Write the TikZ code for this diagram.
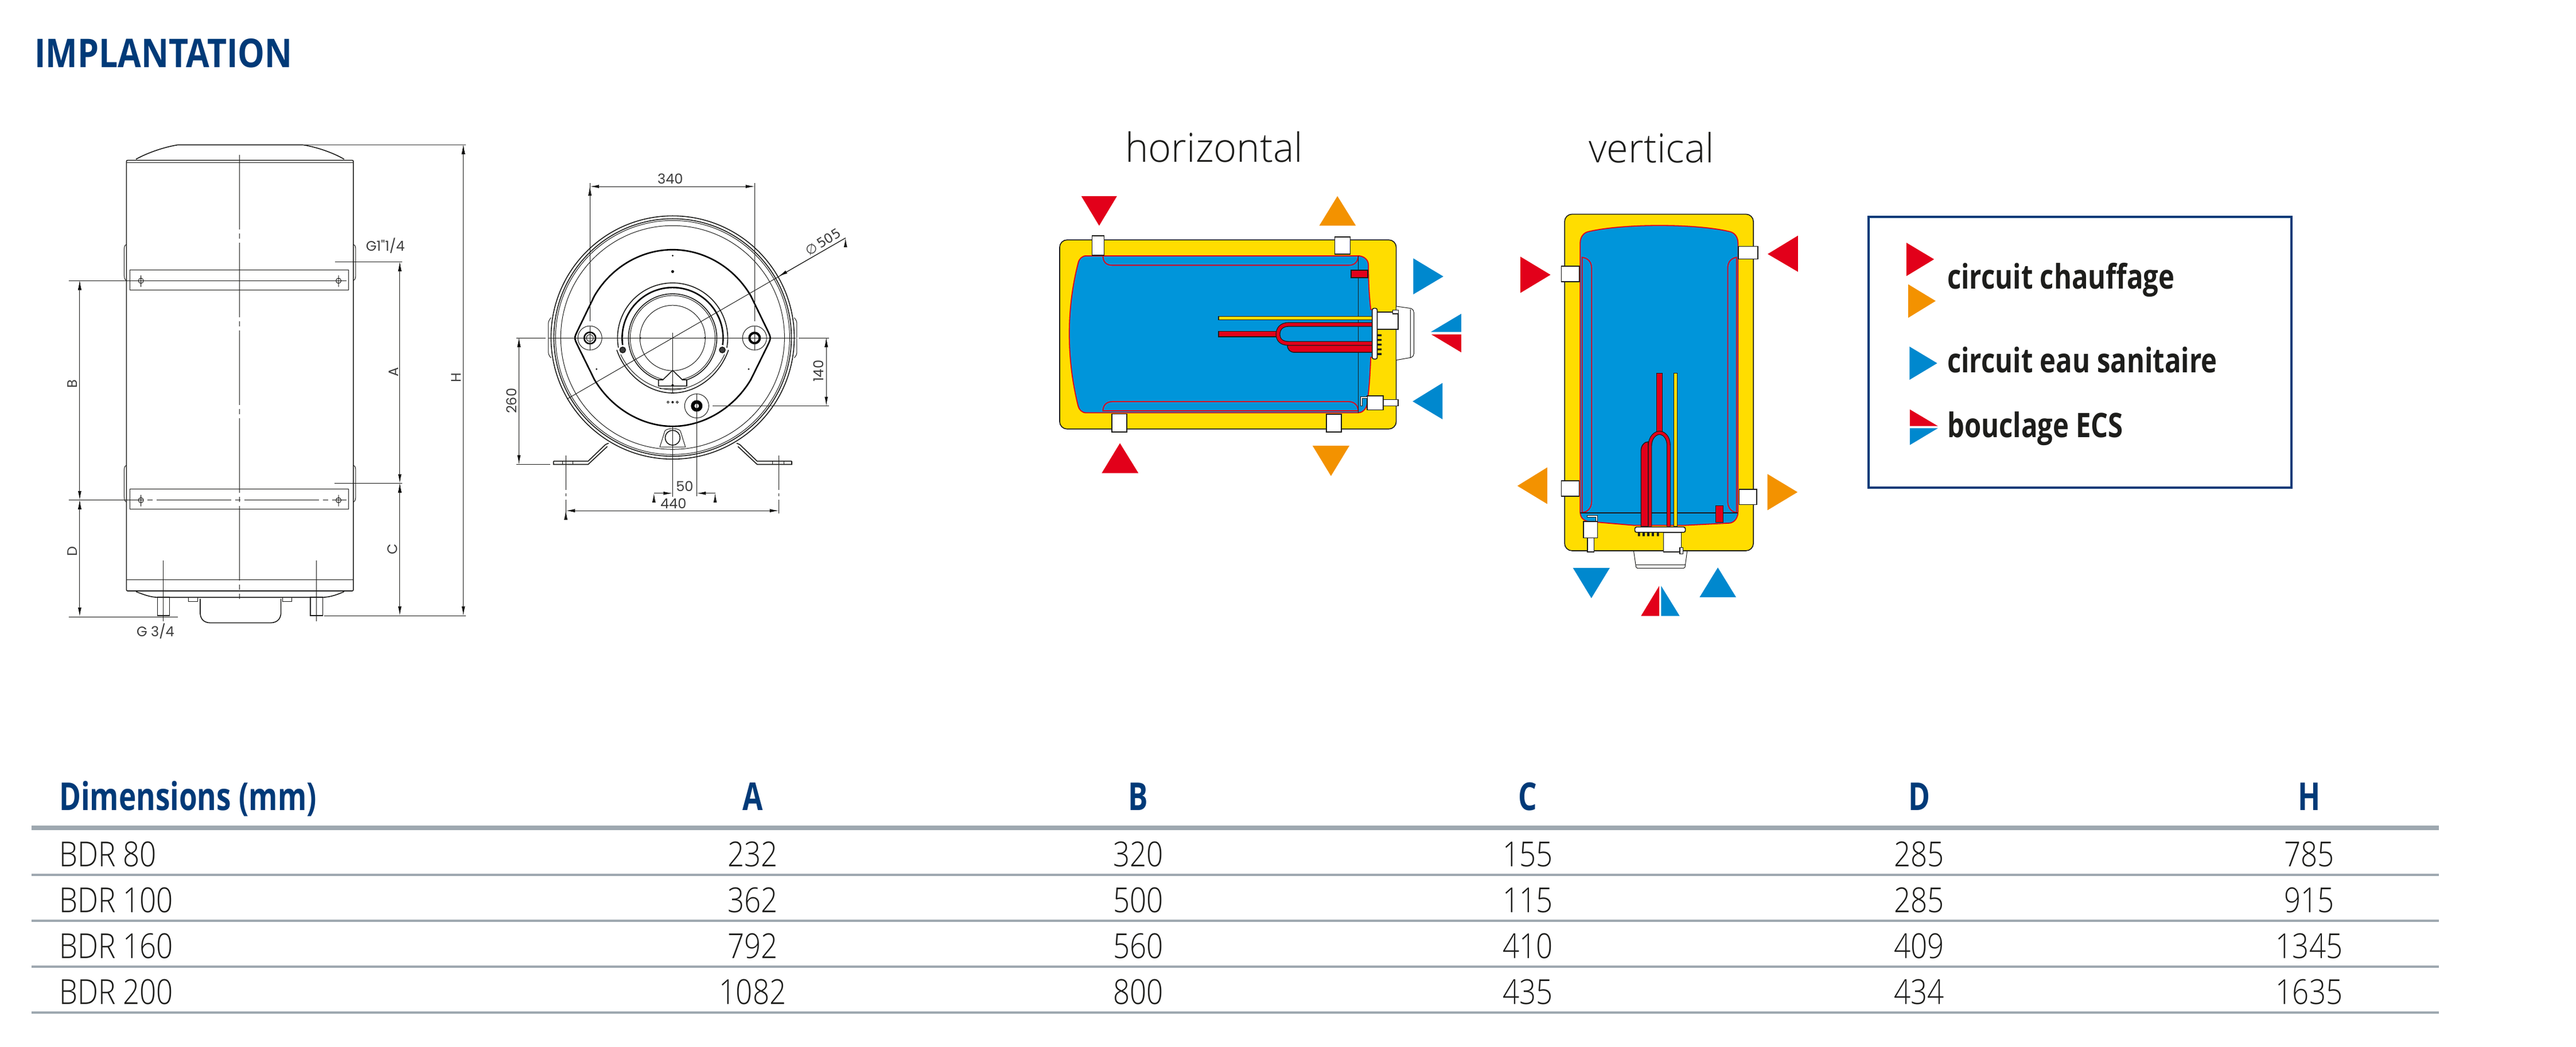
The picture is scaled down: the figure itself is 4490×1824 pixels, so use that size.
\documentclass[tikz,border=0pt]{standalone}
\usepackage{fontspec}
\usetikzlibrary{arrows.meta}
\setmainfont{Open Sans}
\newfontfamily\tablefont[FakeStretch=0.85]{Open Sans Light}
\newfontfamily\headfont[FakeStretch=0.765]{Open Sans}
\newfontfamily\titlefont[FakeStretch=0.855]{Open Sans}
\newfontfamily\legendfont[FakeStretch=0.8]{Open Sans}
\newfontfamily\viewfont[FakeStretch=0.98]{Open Sans Light}
\newfontfamily\dimfont{Poppins}
\newfontfamily\symfont{DejaVu Sans}
\definecolor{navy}{HTML}{003A78}
\definecolor{rulegrey}{HTML}{9EA8B0}
\definecolor{inkdark}{HTML}{1D1D1B}
\definecolor{dimgrey}{HTML}{3C3C3C}
\definecolor{shellyellow}{HTML}{FFDD00}
\definecolor{waterblue}{HTML}{0095DA}
\definecolor{arrowblue}{HTML}{0088CE}
\definecolor{hotred}{HTML}{E2001A}
\definecolor{warmorange}{HTML}{F39200}
\begin{document}
\begin{tikzpicture}[x=1pt, y=-1pt,
    frontview/.style={shift={(0,200)}, x=.574pt, y=-.625pt},
    topview/.style={shift={(880,250)}, x=.4464pt, y=-.4337pt},
    horizview/.style={shift={(1800,200)}, x=.5102pt, y=-.4337pt},
    vertview/.style={shift={(2600,200)}, x=.3827pt, y=-.574pt},
    legendview/.style={shift={(3200,340)}, x=.5485pt, y=-.3444pt},
    title text/.style={font=\fontsize{69}{69}\titlefont\bfseries, text=navy, anchor=base west, inner sep=0},
    head text/.style={font=\fontsize{67}{67}\headfont\bfseries, text=navy, anchor=base, inner sep=0},
    row text/.style={font=\fontsize{60}{60}\tablefont, text=inkdark, anchor=base west, inner sep=0},
    cell/.style={font=\fontsize{60}{60}\tablefont, text=inkdark, anchor=base, inner sep=0},
    view text/.style={font=\fontsize{70}{70}\viewfont, text=inkdark, anchor=base west, inner sep=0},
    legend text/.style={font=\fontsize{59}{59}\legendfont\bfseries, text=inkdark, anchor=base west, inner sep=0},
    dim text/.style={font=\fontsize{24}{24}\dimfont, text=dimgrey, inner sep=0},
    outline/.style={draw=inkdark, line width=1.6pt},
    thinline/.style={draw=inkdark, line width=1pt},
    axisline/.style={draw=inkdark, line width=.8pt, dash pattern=on 130pt off 7pt on 9pt off 7pt},
    dimline/.style={draw=inkdark, line width=1pt, {Latex[length=16pt,width=6pt]}-{Latex[length=16pt,width=6pt]}},
    dimhead/.style={draw=inkdark, line width=1pt, -{Latex[length=16pt,width=6pt]}},
    plate/.style={draw=black, line width=2.6pt},
    shell/.style={fill=shellyellow, draw=inkdark, line width=1.6pt},
    tank/.style={fill=waterblue, draw=hotred, line width=1.8pt},
    coil/.style={draw=hotred, line width=1.8pt},
    socket/.style={fill=white, draw=inkdark, line width=1.6pt},
    redpart/.style={fill=hotred, draw=inkdark, line width=1.4pt},
    rodpart/.style={fill=shellyellow, draw=inkdark, line width=1.4pt}]

    \useasboundingbox (0,0) rectangle (4490,1824);
    \fill[white] (0,0) rectangle (4490,1824);

    \node[title text] at (60,117) (title) {IMPLANTATION};

    % front view
    \begin{scope}[frontview]
        \draw[outline, rounded corners=2pt] (384,127) rectangle (1073,1328);
        \draw[thinline] (384,133) -- (1073,133);
        \draw[thinline] (384,1297) -- (1073,1297);
        \draw[outline] (413,124) .. controls (450,105) and (500,90) .. (540,84) -- (920,84) .. controls (960,90) and (1010,105) .. (1045,124);
        \draw[outline] (413,1330) .. controls (435,1338) and (455,1345) .. (478,1346) -- (980,1346) .. controls (1005,1345) and (1025,1338) .. (1045,1330);
        \draw[thinline] (384,362) .. controls (377,364) and (377,370) .. (377,380) -- (377,445) .. controls (377,455) and (378,460) .. (384,462);
        \draw[thinline] (1073,362) .. controls (1080,364) and (1080,370) .. (1080,380) -- (1080,445) .. controls (1080,455) and (1079,460) .. (1073,462);
        \draw[thinline] (384,978) .. controls (377,980) and (377,986) .. (377,996) -- (377,1062) .. controls (377,1072) and (378,1078) .. (384,1080);
        \draw[thinline] (1073,978) .. controls (1080,980) and (1080,986) .. (1080,996) -- (1080,1062) .. controls (1080,1072) and (1079,1078) .. (1073,1080);
        \draw[thinline] (394,432) rectangle (1059,488);
        \draw[thinline] (394,1044) rectangle (1059,1100);
        \draw[thinline] (428,463) circle[radius=4.5pt] (428,448) -- (428,480);
        \draw[thinline] (1028,463) circle[radius=4.5pt] (1028,448) -- (1028,480);
        \draw[thinline] (428,1075) circle[radius=4.5pt] (428,1060) -- (428,1092);
        \draw[thinline] (1028,1075) circle[radius=4.5pt] (1028,1060) -- (1028,1092);
        \draw[axisline] (728,112) -- (728,1408);
        \draw[thinline] (209,463) -- (1052,463);
        \draw[axisline] (209,1075) -- (1052,1075);
        \draw[thinline] (209,1400) -- (540,1400);
        \draw[thinline, draw=dimgrey] (920,84) -- (1415,84);
        \draw[thinline] (1017,411) -- (1222,411);
        \draw[thinline] (1016,1028) -- (1222,1028);
        \draw[thinline] (985,1397) -- (1415,1397);
        \draw[outline, fill=white] (478,1346) rectangle (515,1397);
        \draw[outline, fill=white] (942,1346) rectangle (980,1397);
        \draw[thinline] (496,1243) -- (496,1412);
        \draw[thinline] (961,1243) -- (961,1412);
        \draw[outline, fill=white] (608,1350) -- (608,1392) .. controls (610,1408) and (620,1417) .. (640,1417) -- (820,1417) .. controls (840,1417) and (851,1408) .. (853,1392) -- (853,1350);
        \draw[thinline, fill=white] (572,1346) rectangle (600,1358);
        \draw[thinline, fill=white] (858,1346) rectangle (885,1358);
        \coordinate (bTop) at (242,463);
        \coordinate (bBottom) at (242,1075);
        \coordinate (dBottom) at (242,1400);
        \coordinate (aTop) at (1214,411);
        \coordinate (aBottom) at (1214,1028);
        \coordinate (cBottom) at (1214,1397);
        \coordinate (hTop) at (1407,84);
        \coordinate (hBottom) at (1407,1397);
        \path[dimline] (bTop) edge (bBottom);
        \path[dimline] (bBottom) edge (dBottom);
        \path[dimline] (aTop) edge (aBottom);
        \path[dimline] (aBottom) edge (cBottom);
        \path[dimline] (hTop) edge (hBottom);
        \node[dim text, rotate=90] at (220,750) (dimB) {B};
        \node[dim text, rotate=90] at (220,1218) (dimD) {D};
        \node[dim text, rotate=90] at (1195,718) (dimA) {A};
        \node[dim text, rotate=90] at (1192,1212) (dimC) {C};
        \node[dim text, rotate=90] at (1385,733) (dimH) {H};
        \node[dim text] at (1170,365) (portTop) {G1"1/4};
        \node[dim text] at (472,1441) (portBottom) {G 3/4};
    \end{scope}

    % top view
    \begin{scope}[topview]
        \draw[outline] (655,780) circle[radius=212pt];
        \draw[outline] (655,780) circle[radius=207pt];
        \draw[thinline] (655,780) circle[radius=204pt];
        \draw[thinline] (655,780) circle[radius=195pt];
        \draw[plate] (285,750) -- (350,612) .. controls (420,490) and (540,427) .. (655,427) .. controls (770,427) and (890,490) .. (960,612) -- (1025,750) .. controls (1040,782) .. (1025,814) -- (960,950) .. controls (890,1070) and (770,1137) .. (655,1137) .. controls (540,1137) and (420,1070) .. (350,950) -- (285,814) .. controls (270,782) .. (285,750) -- cycle;
        \draw[outline] (655,782) ++(190:96pt) arc[start angle=190, end angle=-10, radius=96pt];
        \draw[plate] (655,782) ++(188:88pt) arc[start angle=188, end angle=-8, radius=88pt];
        \draw[outline] (437,830) .. controls (470,930) and (560,1003) .. (655,1003) .. controls (750,1003) and (840,930) .. (873,830);
        \draw[thinline] (452,848) .. controls (490,930) and (570,990) .. (655,990) .. controls (740,990) and (820,930) .. (858,848);
        \draw[outline] (655,782) circle[radius=77pt];
        \draw[thinline] (655,782) circle[radius=74pt];
        \draw[thinline] (655,782) circle[radius=57pt];
        \draw[outline, fill=dimgrey] (460,830) circle[radius=5pt];
        \draw[outline, fill=dimgrey] (849,830) circle[radius=5pt];
        \draw[outline, fill=white] (655,912) -- (617,950) -- (600,950) -- (600,975) -- (710,975) -- (710,950) -- (693,950) -- cycle;
        \draw[thinline] (605,985) -- (705,985);
        \draw[thinline] (332,782) circle[radius=21pt];
        \draw[plate] (332,782) circle[radius=10pt];
        \draw[thinline] (332,782) circle[radius=6pt];
        \draw[thinline] (975,782) circle[radius=21pt];
        \draw[line width=4pt, draw=black] (975,782) circle[radius=9pt];
        \draw[thinline] (749,1055) circle[radius=21pt];
        \draw[line width=6pt, draw=black] (749,1055) circle[radius=7pt];
        \fill[black] (655,451) circle[radius=1.5pt] (655,515) circle[radius=2.5pt] (358,907) circle[radius=1.5pt] (952,907) circle[radius=1.5pt] (655,1040) circle[radius=2pt] (655,972) circle[radius=2pt] (530,782) circle[radius=1.5pt] (780,782) circle[radius=1.5pt];
        \draw[thinline] (637,1040) circle[radius=1.8pt] (673,1040) circle[radius=1.8pt];
        \draw[thinline] (170,782) -- (1135,782);
        \draw[thinline] (45,782) -- (160,782);
        \draw[thinline] (1148,782) -- (1265,782);
        \draw[thinline, rounded corners=3pt] (180,700) -- (170,715) -- (170,848) -- (180,862);
        \draw[thinline, rounded corners=3pt] (1130,700) -- (1140,715) -- (1140,848) -- (1130,862);
        \draw[thinline] (332,160) -- (332,715);
        \draw[thinline] (976,160) -- (976,715);
        \draw[thinline] (332,735) -- (332,830);
        \draw[thinline] (975,735) -- (975,830);
        \draw[thinline] (655,760) -- (655,1000);
        \draw[thinline] (655,1140) -- (655,1420);
        \draw[thinline] (749,1005) -- (749,1418);
        \draw[thinline] (812,1055) -- (1265,1055);
        \draw[thinline] (45,1290) -- (178,1290);
        \draw[thinline] (605,1220) -- (625,1155) .. controls (635,1143) and (675,1143) .. (685,1155) -- (705,1220) -- cycle;
        \draw[outline] (655,1183) circle[radius=13pt];
        \draw[outline] (190,1277) -- (325,1277) -- (393,1210) -- (405,1205);
        \draw[outline] (190,1277) -- (190,1290) -- (325,1290) -- (400,1218);
        \draw[outline] (1120,1277) -- (985,1277) -- (917,1210) -- (905,1205);
        \draw[outline] (1120,1277) -- (1120,1290) -- (985,1290) -- (910,1218);
        \draw[thinline] (225,1277) -- (225,1290) (265,1277) -- (265,1290) (1045,1277) -- (1045,1290) (1090,1277) -- (1090,1290);
        \draw[thinline, dash pattern=on 60pt off 6pt on 5pt off 6pt] (238,1255) -- (238,1488);
        \draw[thinline, dash pattern=on 60pt off 6pt on 5pt off 6pt] (1070,1255) -- (1070,1488);
        \coordinate (widthLeft) at (332,173);
        \coordinate (widthRight) at (976,173);
        \coordinate (offsetTop) at (1255,782);
        \coordinate (offsetBottom) at (1255,1055);
        \coordinate (footTop) at (55,782);
        \coordinate (footBottom) at (55,1290);
        \coordinate (feetLeft) at (238,1476);
        \coordinate (feetRight) at (1070,1476);
        \coordinate (shiftLeft) at (582,1406);
        \coordinate (shiftCentre) at (655,1406);
        \coordinate (shiftRight) at (821,1406);
        \coordinate (shiftPort) at (749,1406);
        \coordinate (diaFar) at (243,1027);
        \coordinate (diaFree) at (1330,380);
        \coordinate (diaRim) at (1068,535);
        \path[dimline] (widthLeft) edge (widthRight);
        \path[dimline] (offsetTop) edge (offsetBottom);
        \path[dimline] (footTop) edge (footBottom);
        \path[dimline] (feetLeft) edge (feetRight);
        \path[dimhead] (shiftLeft) edge (shiftCentre);
        \path[dimhead] (shiftRight) edge (shiftPort);
        \path[thinline] (diaFar) edge (diaFree);
        \path[dimhead] (diaFree) edge (diaRim);
        \node[dim text] at (646,143) (dim340) {340};
        \node[dim text] at (702,1377) (dim50) {50};
        \node[dim text] at (658,1447) (dim440) {440};
        \node[dim text, rotate=90] at (1225,915) (dim140) {140};
        \node[dim text, rotate=90] at (27,1035) (dim260) {260};
        \node[dim text, font=\fontsize{23}{23}\symfont, rotate=32] at (1243,395) (dim505) {∅\kern3pt 505};
    \end{scope}

    % horizontal
    \node[view text] at (1961,282) (viewH) {horizontal};
    \begin{scope}[horizview]
        \draw[shell, rounded corners=13pt] (92,503) rectangle (1242,1263);
        \draw[tank] (183,567) -- (1115,567) .. controls (1135,570) and (1147,585) .. (1147,605) .. controls (1147,680) and (1150,730) .. (1155,783) -- (1160,783) -- (1160,975) -- (1155,975) .. controls (1152,1050) and (1150,1100) .. (1142,1165) .. controls (1138,1185) and (1125,1198) .. (1112,1198) -- (183,1198) .. controls (168,1198) and (158,1185) .. (155,1170) .. controls (115,980) and (115,780) .. (155,597) .. controls (158,580) and (168,567) .. (183,567) -- cycle;
        \draw[coil] (240,567) .. controls (240,590) and (250,605) .. (272,605) -- (1080,605) .. controls (1100,605) and (1112,590) .. (1112,567);
        \draw[coil] (240,1190) .. controls (240,1170) and (250,1153) .. (272,1153) -- (1080,1153) .. controls (1100,1153) and (1112,1170) .. (1112,1190) -- cycle;
        \draw[outline] (1112,567) -- (1112,1198);
        \draw[redpart] (1088,625) rectangle (1145,655);
        \draw[socket] (203,486) rectangle (244,565);
        \draw[socket] (1032,491) rectangle (1085,560);
        \draw[socket] (270,1202) rectangle (321,1275);
        \draw[socket] (1003,1204) rectangle (1055,1275);
        \draw[socket] (1198,1145) rectangle (1248,1170);
        \draw[socket] (1143,1130) rectangle (1198,1186);
        \draw[line width=4pt, draw=inkdark] (1124,1172) -- (1124,1137) -- (1142,1137);
        \draw[line width=2pt, draw=white] (1124,1170) -- (1124,1137) -- (1142,1137);
        \draw[rodpart] (635,810) rectangle (1160,824);
        \draw[redpart] (635,870) rectangle (835,892);
        \draw[redpart] (870,925) .. controls (870,945) and (880,955) .. (895,955) -- (1160,955) -- (1160,925) -- cycle;
        \draw[line width=8pt, draw=inkdark] (1160,843) -- (875,843) .. controls (850,843) and (838,860) .. (838,882) .. controls (838,905) and (850,919) .. (875,919) -- (1160,919);
        \draw[line width=5.4pt, draw=hotred] (1160,843) -- (875,843) .. controls (850,843) and (838,860) .. (838,882) .. controls (838,905) and (850,919) .. (875,919) -- (1160,919);
        \fill[inkdark] (1177,882) rectangle (1192,890) (1177,901) rectangle (1192,909) (1177,920) rectangle (1192,928) (1177,939) rectangle (1192,947) (1177,958) rectangle (1192,966);
        \draw[thinline, fill=white, rounded corners=2pt] (1243,770) -- (1296,779) -- (1302,790) -- (1302,965) -- (1296,975) -- (1243,986);
        \draw[thinline] (1290,781) -- (1290,975);
        \draw[socket] (1177,793) rectangle (1248,863);
        \draw[socket, line width=1.2pt] (1230,786) rectangle (1250,800);
        \draw[socket, rounded corners=3pt] (1160,778) rectangle (1177,982);
        \fill[hotred] (166,327) -- (288,327) -- (227,446) -- cycle;
        \fill[warmorange] (1041,327) -- (979,446) -- (1104,446) -- cycle;
        \fill[arrowblue] (1300,577) -- (1403,650) -- (1300,722) -- cycle;
        \fill[arrowblue] (1464,800) -- (1360,873) -- (1464,873) -- cycle;
        \fill[hotred] (1362,883) -- (1464,883) -- (1464,955) -- cycle;
        \fill[arrowblue] (1400,1078) -- (1298,1152) -- (1400,1224) -- cycle;
        \fill[hotred] (298,1320) -- (236,1440) -- (361,1440) -- cycle;
        \fill[warmorange] (956,1330) -- (1082,1330) -- (1019,1452) -- cycle;
    \end{scope}

    % vertical
    \node[view text] at (2769,283) (viewV) {vertical};
    \begin{scope}[vertview]
        \draw[shell, rounded corners=13pt] (332,302) rectangle (1192,1324);
        \draw[tank] (440,355) .. controls (600,330) and (930,330) .. (1085,355) .. controls (1105,358) and (1122,370) .. (1122,390) -- (1122,1205) .. controls (1122,1225) and (1105,1238) .. (1085,1240) -- (875,1247) -- (650,1247) -- (440,1235) .. controls (420,1233) and (403,1225) .. (403,1205) -- (403,390) .. controls (403,370) and (420,358) .. (440,355) -- cycle;
        \draw[coil] (412,433) .. controls (435,435) and (455,445) .. (455,465) -- (455,1175) .. controls (455,1195) and (435,1207) .. (412,1208) -- cycle;
        \draw[coil] (1115,433) .. controls (1095,435) and (1075,445) .. (1075,465) -- (1075,1175) .. controls (1075,1195) and (1095,1207) .. (1115,1208) -- cycle;
        \draw[outline] (403,1209) -- (1122,1209);
        \draw[redpart] (1020,1187) rectangle (1055,1238);
        \draw[socket] (317,460) rectangle (400,507);
        \draw[socket] (1124,400) rectangle (1212,438);
        \draw[socket] (317,1111) rectangle (398,1158);
        \draw[socket] (1127,1138) rectangle (1207,1184);
        \draw[socket] (436,1285) rectangle (466,1328);
        \draw[socket] (418,1235) rectangle (482,1285);
        \draw[line width=4pt, draw=inkdark] (434,1219) -- (477,1219) -- (477,1235);
        \draw[line width=2pt, draw=white] (436,1219) -- (477,1219) -- (477,1233);
        \draw[redpart] (751,785) rectangle (777,965);
        \draw[rodpart] (830,785) rectangle (845,1250);
        \draw[redpart] (680,1250) -- (680,1020) .. controls (680,1005) and (695,993) .. (713,993) -- (713,1250) -- cycle;
        \draw[line width=7pt, draw=inkdark] (721,1250) -- (721,1005) .. controls (721,980) and (745,966) .. (764,966) .. controls (785,966) and (806,980) .. (806,1005) -- (806,1250);
        \draw[line width=4.6pt, draw=hotred] (721,1250) -- (721,1005) .. controls (721,980) and (745,966) .. (764,966) .. controls (785,966) and (806,980) .. (806,1005) -- (806,1250);
        \fill[inkdark] (666,1268) rectangle (676,1280) (687,1268) rectangle (697,1280) (708,1268) rectangle (718,1280) (729,1268) rectangle (739,1280) (752,1268) rectangle (762,1280);
        \draw[thinline, fill=white, rounded corners=2pt] (647,1326) -- (658,1377) -- (880,1377) -- (890,1326);
        \draw[thinline] (655,1366) -- (883,1366);
        \draw[socket] (783,1268) rectangle (863,1328);
        \draw[socket, line width=1.2pt] (857,1315) rectangle (872,1333);
        \draw[socket, rounded corners=3pt] (652,1252) rectangle (882,1268);
        \fill[hotred] (131,431) -- (268,486) -- (131,541) -- cycle;
        \fill[hotred] (1395,367) -- (1257,423) -- (1395,477) -- cycle;
        \fill[warmorange] (253,1071) -- (117,1127) -- (253,1182) -- cycle;
        \fill[warmorange] (1256,1091) -- (1393,1146) -- (1256,1201) -- cycle;
        \fill[arrowblue] (370,1376) -- (538,1376) -- (454,1468) -- cycle;
        \fill[arrowblue] (1030,1375) -- (947,1465) -- (1113,1465) -- cycle;
        \fill[hotred] (763,1431) -- (680,1522) -- (763,1522) -- cycle;
        \fill[arrowblue] (772,1431) -- (856,1522) -- (772,1522) -- cycle;
    \end{scope}

    % legend
    \begin{scope}[legendview]
        \draw[navy, line width=4pt] (103,110) rectangle (1447,1480);
        \fill[hotred] (224,241) -- (312,325) -- (224,410) -- cycle;
        \fill[warmorange] (230,452) -- (317,536) -- (230,621) -- cycle;
        \fill[arrowblue] (234,767) -- (322,851) -- (234,935) -- cycle;
        \fill[hotred] (235,1085) -- (324,1169) -- (235,1169) -- cycle;
        \fill[arrowblue] (235,1180) -- (324,1180) -- (235,1265) -- cycle;
    \end{scope}
    \node[legend text] at (3394,503) (heating) {circuit chauffage};
    \node[legend text] at (3394,649) (sanitary) {circuit eau sanitaire};
    \node[legend text] at (3394,762) (loop) {bouclage ECS};

    % table
    \draw[rulegrey, line width=8.7pt] (55,1443) -- (4251,1443);
    \draw[rulegrey, line width=4pt] (55,1525) -- (4251,1525);
    \draw[rulegrey, line width=4pt] (55,1605) -- (4251,1605);
    \draw[rulegrey, line width=4pt] (55,1685) -- (4251,1685);
    \draw[rulegrey, line width=4pt] (55,1765) -- (4251,1765);

    \node[head text, anchor=base west] at (103,1412) (headDim) {Dimensions (mm)};
    \node[head text] at (1312,1412) (headA) {A};
    \node[head text] at (1984,1412) (headB) {B};
    \node[head text] at (2663,1412) (headC) {C};
    \node[head text] at (3345,1412) (headD) {D};
    \node[head text] at (4025,1412) (headH) {H};

    \node[row text] at (103,1510) (rowA) {BDR 80};
    \node[cell] at (1312,1510) (a80) {232};
    \node[cell] at (1984,1510) (b80) {320};
    \node[cell] at (2663,1510) (c80) {155};
    \node[cell] at (3345,1510) (d80) {285};
    \node[cell] at (4025,1510) (h80) {785};

    \node[row text] at (103,1590) (rowB) {BDR 100};
    \node[cell] at (1312,1590) (a100) {362};
    \node[cell] at (1984,1590) (b100) {500};
    \node[cell] at (2663,1590) (c100) {115};
    \node[cell] at (3345,1590) (d100) {285};
    \node[cell] at (4025,1590) (h100) {915};

    \node[row text] at (103,1670) (rowC) {BDR 160};
    \node[cell] at (1312,1670) (a160) {792};
    \node[cell] at (1984,1670) (b160) {560};
    \node[cell] at (2663,1670) (c160) {410};
    \node[cell] at (3345,1670) (d160) {409};
    \node[cell] at (4025,1670) (h160) {1345};

    \node[row text] at (103,1750) (rowD) {BDR 200};
    \node[cell] at (1312,1750) (a200) {1082};
    \node[cell] at (1984,1750) (b200) {800};
    \node[cell] at (2663,1750) (c200) {435};
    \node[cell] at (3345,1750) (d200) {434};
    \node[cell] at (4025,1750) (h200) {1635};
\end{tikzpicture}
\end{document}
